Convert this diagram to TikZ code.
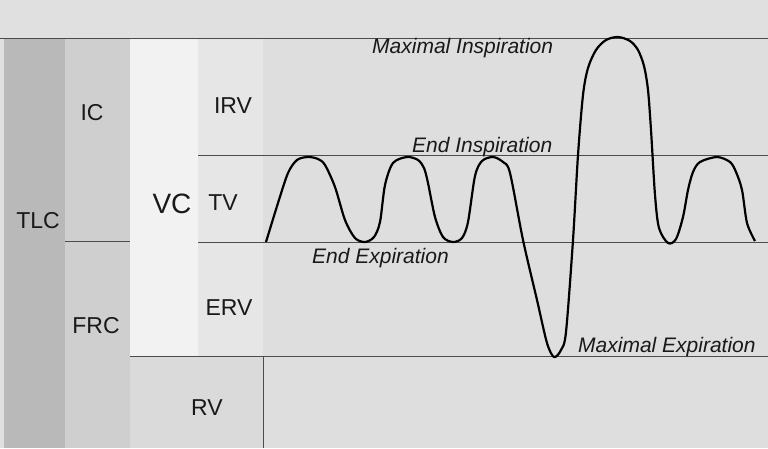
\documentclass[tikz,border=0pt]{standalone}
\usepackage{fontspec}
\setmainfont{Liberation Sans}
\definecolor{bandgray}{RGB}{224,224,224}
\definecolor{plotgray}{RGB}{222,222,222}
\definecolor{tlcgray}{RGB}{185,185,185}
\definecolor{icgray}{RGB}{207,207,207}
\definecolor{vcgray}{RGB}{242,242,242}
\definecolor{tvgray}{RGB}{230,230,230}
\definecolor{rvgray}{RGB}{218,218,218}

\begin{document}
\begin{tikzpicture}[x=1pt,y=-1pt,
	vol/.style={anchor=base,inner sep=0pt,text=black!90,font=\fontsize{23}{23}\selectfont},
	lvl/.style={anchor=base west,inner sep=0pt,text=black!90,font=\fontsize{21}{21}\selectfont\itshape},
	rule/.style={draw=black!70,line width=0.9pt}]
\useasboundingbox (0,0) rectangle (768,448);
\fill[bandgray] (0,0) rectangle (768,448);
\fill[plotgray] (263,38) rectangle (768,448);
\fill[tlcgray] (4,38) rectangle (65,448);
\fill[icgray] (65,38) rectangle (130,448);
\fill[vcgray] (130,38) rectangle (198,356);
\fill[tvgray] (198,38) rectangle (263,356);
\fill[rvgray] (130,356) rectangle (263,448);

			\coordinate (TOPL) at (0,38);
			\coordinate (TOPR) at (768,38);
			\coordinate (EIL) at (198,155);
			\coordinate (EIR) at (768,155);
			\coordinate (EEL) at (198,242);
			\coordinate (EER) at (768,242);
			\coordinate (FRCL) at (65,241);
			\coordinate (FRCR) at (130,241);
			\coordinate (MEL) at (130,356);
			\coordinate (MER) at (768,356);
			\coordinate (RVT) at (263,356);
			\coordinate (RVB) at (263,448);
			\path[rule]
			(TOPL) edge (TOPR)
			(EIL) edge (EIR)
			(EEL) edge (EER)
			(FRCL) edge (FRCR)
			(MEL) edge (MER)
			(RVT) edge (RVB);

			\node[vol] (TLC) at (38,228) {TLC};
			\node[vol] (IC) at (92,120) {IC};
			\node[vol] (FRC) at (96,333) {FRC};
			\node[vol,font=\fontsize{28}{28}\selectfont] (VC) at (172,213) {VC};
			\node[vol] (IRV) at (233,113) {IRV};
			\node[vol] (TV) at (223,210) {TV};
			\node[vol] (ERV) at (229,315) {ERV};
			\node[vol] (RV) at (207,415) {RV};

			\node[lvl] (MI) at (372,53) {Maximal Inspiration};
			\node[lvl] (EI) at (412,152) {End Inspiration};
			\node[lvl] (EE) at (312,263) {End Expiration};
			\node[lvl] (ME) at (578,352) {Maximal Expiration};

\draw[line width=2.2pt,line join=round] plot[smooth,tension=0.5] coordinates {
	(266,242) (278,203) (288,173) (297,160) (308,157) (318,159) (325,165)
	(335,187) (345,220) (355,238) (365,242) (374,237) (380,222) (385,185)
	(393,163) (407,157) (418,160) (424,168) (428,183) (435,217) (443,237)
	(453,242) (462,238) (468,222) (475,176) (482,161) (493,157) (503,162)
	(510,173) (523,240) (537,300) (547,343) (554,357) (561,350) (566,332)
	(573,240) (578,155) (583,95) (588,68) (596,50) (606,40) (618,37)
	(630,41) (638,50) (644,66) (648,90) (651,130) (655,195) (659,228)
	(668,243) (676,239) (683,217) (688,190) (693,172) (700,162) (717,157)
	(730,162) (736,172) (742,190) (747,223) (755,241)};
\end{tikzpicture}
\end{document}
